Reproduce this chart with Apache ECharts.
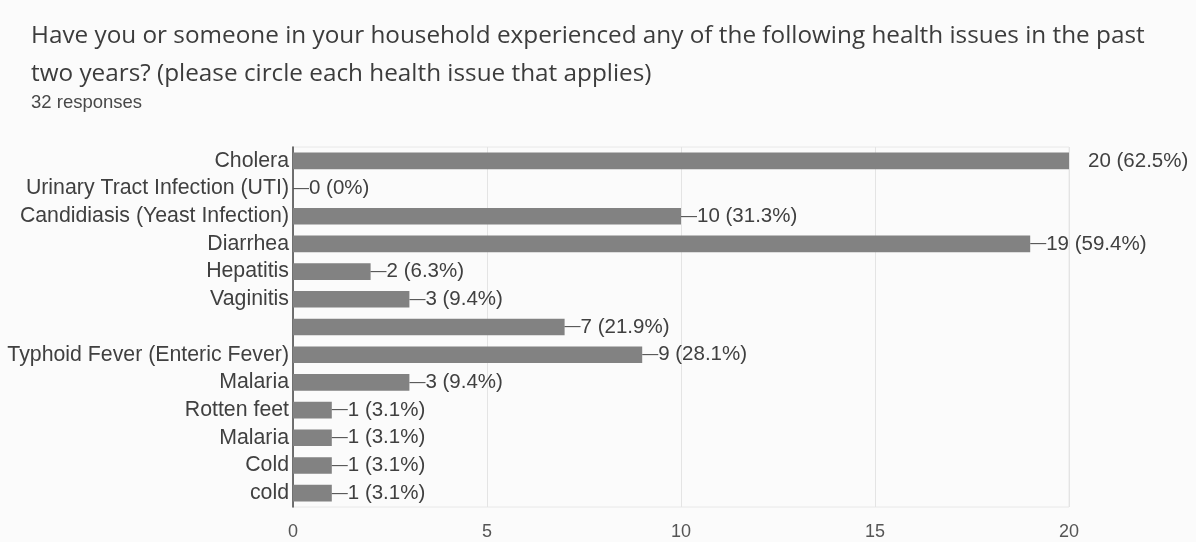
<!DOCTYPE html>
<html><head><meta charset="utf-8">
<script src="https://cdn.jsdelivr.net/npm/echarts@6/dist/echarts.min.js"></script>
<style>html,body{margin:0;padding:0;background:#fbfbfb}#c{width:1196px;height:542px}</style>
</head><body><div id="c"></div>
<script>
var categories = ['Cholera','Urinary Tract Infection (UTI)','Candidiasis (Yeast Infection)','Diarrhea','Hepatitis','Vaginitis','','Typhoid Fever (Enteric Fever)','Malaria','Rotten feet','Malaria','Cold','cold'];
var counts = [20,0,10,19,2,3,7,9,3,1,1,1,1];
var percents = ['62.5%','0%','31.3%','59.4%','6.3%','9.4%','21.9%','28.1%','9.4%','3.1%','3.1%','3.1%','3.1%'];
var xTicks = [0,5,10,15,20];

var chart = echarts.init(document.getElementById('c'));
var data = counts.map(function(v,i){
  var d = {value:v};
  if (i === 0) d.label = {distance: 19, formatter: v + ' (' + percents[i] + ')'};
  return d;
});
chart.setOption({
  backgroundColor:'#fbfbfb',
  animation:false,
  title:[{
    text:'Have you or someone in your household experienced any of the following health issues in the past\ntwo years? (please circle each health issue that applies)',
    left:26, top:12,
    textStyle:{fontFamily:'Open Sans',fontSize:24.3,fontWeight:'normal',color:'#3c3c3c',lineHeight:38}
  },{
    text:'32 responses',
    left:26, top:88,
    textStyle:{fontFamily:'Liberation Sans',fontSize:18.5,fontWeight:'normal',color:'#484848',lineHeight:20}
  }],
  grid:{left:293,right:127,top:147,bottom:35,containLabel:false,show:true,borderColor:'#e8e8e8',borderWidth:1},
  xAxis:{
    type:'value',min:0,max:20,interval:5,
    axisLine:{show:false},axisTick:{show:false},
    axisLabel:{fontFamily:'Liberation Sans',fontSize:18,color:'#555',margin:16,
      formatter:function(v){return xTicks.indexOf(v)>=0?String(v):'';}},
    splitLine:{lineStyle:{color:'#e4e4e4'}}
  },
  yAxis:{
    type:'category',inverse:true,data:categories,
    axisLine:{lineStyle:{color:'#444',width:1.5}},axisTick:{show:false},
    axisLabel:{fontFamily:'Liberation Sans',fontSize:21.3,color:'#404040',margin:4}
  },
  series:[{
    type:'bar',data:data,barCategoryGap:'40%',
    itemStyle:{color:'#828282'},
    label:{show:true,position:'right',distance:0,fontFamily:'Liberation Sans',fontSize:20.5,color:'#404040',
      formatter:function(p){return '{d|\u2014}'+p.value+' ('+percents[p.dataIndex]+')';},
      rich:{d:{fontSize:16,color:'#555'}}}
  }]
});
</script></body></html>
